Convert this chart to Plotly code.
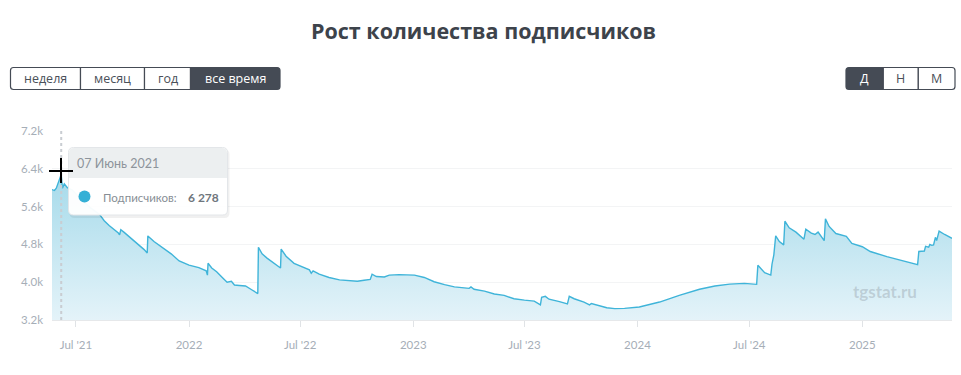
import plotly.graph_objects as go

# ---------------- data ----------------
dates = [
    "2021-05-23", "2021-05-27", "2021-05-30", "2021-06-02", "2021-06-07", "2021-06-09",
    "2021-06-12", "2021-06-17", "2021-06-25", "2021-07-06", "2021-07-22", "2021-08-08",
    "2021-08-16", "2021-08-24", "2021-09-01", "2021-09-08", "2021-09-10", "2021-09-12",
    "2021-09-17", "2021-10-04", "2021-10-20", "2021-10-25", "2021-10-26", "2021-11-05",
    "2021-11-21", "2021-12-03", "2021-12-16", "2022-01-01", "2022-01-17", "2022-01-26",
    "2022-01-29", "2022-01-31", "2022-02-01", "2022-02-07", "2022-02-15", "2022-02-25",
    "2022-03-04", "2022-03-11", "2022-03-16", "2022-03-24", "2022-04-03", "2022-04-13",
    "2022-04-23", "2022-04-24", "2022-04-30", "2022-05-08", "2022-05-20", "2022-05-30",
    "2022-05-31", "2022-06-08", "2022-06-21", "2022-07-04", "2022-07-16", "2022-07-19",
    "2022-07-22", "2022-08-01", "2022-08-17", "2022-09-03", "2022-09-19", "2022-10-02",
    "2022-10-13", "2022-10-23", "2022-10-26", "2022-11-02", "2022-11-15", "2022-11-23",
    "2022-12-09", "2022-12-26", "2023-01-03", "2023-01-19", "2023-02-04", "2023-02-21",
    "2023-03-09", "2023-03-25", "2023-04-02", "2023-04-05", "2023-04-10", "2023-04-27",
    "2023-05-13", "2023-05-29", "2023-06-14", "2023-07-01", "2023-07-17", "2023-07-27",
    "2023-07-29", "2023-08-04", "2023-08-10", "2023-08-27", "2023-09-09", "2023-09-12",
    "2023-09-20", "2023-10-06", "2023-10-15", "2023-10-18", "2023-10-31", "2023-11-12",
    "2023-11-25", "2023-12-11", "2024-01-04", "2024-02-06", "2024-03-09", "2024-04-11",
    "2024-05-06", "2024-05-30", "2024-06-23", "2024-07-13", "2024-07-15", "2024-07-26",
    "2024-08-05", "2024-08-07", "2024-08-10", "2024-08-13", "2024-08-19", "2024-08-26",
    "2024-08-28", "2024-09-04", "2024-09-15", "2024-09-28", "2024-10-01", "2024-10-10",
    "2024-10-16", "2024-10-21", "2024-10-31", "2024-11-02", "2024-11-08", "2024-11-19",
    "2024-12-06", "2024-12-15", "2025-01-01", "2025-01-14", "2025-02-10", "2025-03-08",
    "2025-04-01", "2025-04-03", "2025-04-12", "2025-04-14", "2025-04-19", "2025-04-21",
    "2025-04-24", "2025-04-27", "2025-04-30", "2025-05-02", "2025-05-06", "2025-05-15",
    "2025-05-27",
]
subscribers = [
    5960, 5940, 5990, 6100, 6278, 5990,
    6080, 6000, 5950, 5800, 5600, 5440,
    5300, 5200, 5120, 5040, 5000, 5110,
    5060, 4880, 4690, 4620, 4980, 4860,
    4710, 4600, 4450, 4360, 4310, 4270,
    4240, 4150, 4400, 4300, 4220, 4090,
    4000, 4020, 3940, 3930, 3920, 3840,
    3760, 4740, 4600, 4510, 4400, 4300,
    4700, 4550, 4400, 4330, 4260, 4190,
    4240, 4170, 4100, 4050, 4040, 4020,
    4040, 4060, 4170, 4120, 4110, 4150,
    4160, 4160, 4150, 4100, 4010, 3950,
    3900, 3880, 3870, 3900, 3850, 3810,
    3750, 3720, 3650, 3620, 3600, 3520,
    3680, 3700, 3640, 3590, 3540, 3700,
    3650, 3580, 3520, 3550, 3510, 3460,
    3440, 3445, 3475, 3580, 3720, 3850,
    3920, 3960, 3975, 3955, 4360, 4200,
    4150, 4380, 4580, 4980, 4860, 4790,
    5290, 5150, 5060, 4910, 5120, 5040,
    5010, 5060, 4880, 5340, 5180, 5030,
    4970, 4820, 4750, 4650, 4540, 4450,
    4370, 4650, 4660, 4760, 4740, 4800,
    4780, 4790, 4950, 4880, 5080, 5010,
    4930,
]
x_range = ["2021-05-23", "2025-05-27"]
y_range = [3200, 7200]
y_ticks = [3200, 4000, 4800, 5600, 6400, 7200]
y_tick_labels = ["3.2k", "4.0k", "4.8k", "5.6k", "6.4k", "7.2k"]
x_ticks = ["2021-07-01", "2022-01-01", "2022-07-01", "2023-01-01",
           "2023-07-01", "2024-01-01", "2024-07-01", "2025-01-01"]
x_tick_labels = ["Jul '21", "2022", "Jul '22", "2023", "Jul '23", "2024", "Jul '24", "2025"]

title_text = "Рост количества подписчиков"
left_buttons = ["неделя", "месяц", "год", "все время"]
right_buttons = ["Д", "Н", "М"]
tooltip_date = "07 Июнь 2021"
tooltip_label = "Подписчиков:"
tooltip_value = "6 278"
hover_date = "2021-06-07"
watermark = "tgstat.ru"

# ---------------- layout geometry (pixels) ----------------
W, H = 961, 375
L, R, T, B = 52, 9, 131, 55
PW, PH = W - L - R, H - T - B
FONT = "Lato"
HFONT = "Open Sans"


def px(x):
    return (x - L) / PW


def py(y):
    return (H - B - y) / PH


def rrect(x0, y0, x1, y1, r, top_only=False):
    rb = 0 if top_only else r
    pts = []
    pts.append(f"M{px(x0 + r)},{py(y0)}")
    pts.append(f"L{px(x1 - r)},{py(y0)}")
    pts.append(f"Q{px(x1)},{py(y0)} {px(x1)},{py(y0 + r)}")
    if rb:
        pts.append(f"L{px(x1)},{py(y1 - rb)}")
        pts.append(f"Q{px(x1)},{py(y1)} {px(x1 - rb)},{py(y1)}")
        pts.append(f"L{px(x0 + rb)},{py(y1)}")
        pts.append(f"Q{px(x0)},{py(y1)} {px(x0)},{py(y1 - rb)}")
    else:
        pts.append(f"L{px(x1)},{py(y1)}")
        pts.append(f"L{px(x0)},{py(y1)}")
    pts.append(f"L{px(x0)},{py(y0 + r)}")
    pts.append(f"Q{px(x0)},{py(y0)} {px(x0 + r)},{py(y0)}")
    pts.append("Z")
    return " ".join(pts)


def rrect_lr(x0, y0, x1, y1, r, round_left, round_right):
    pts = []
    if round_left:
        pts.append(f"M{px(x0 + r)},{py(y0)}")
    else:
        pts.append(f"M{px(x0)},{py(y0)}")
    if round_right:
        pts.append(f"L{px(x1 - r)},{py(y0)}")
        pts.append(f"Q{px(x1)},{py(y0)} {px(x1)},{py(y0 + r)}")
        pts.append(f"L{px(x1)},{py(y1 - r)}")
        pts.append(f"Q{px(x1)},{py(y1)} {px(x1 - r)},{py(y1)}")
    else:
        pts.append(f"L{px(x1)},{py(y0)}")
        pts.append(f"L{px(x1)},{py(y1)}")
    if round_left:
        pts.append(f"L{px(x0 + r)},{py(y1)}")
        pts.append(f"Q{px(x0)},{py(y1)} {px(x0)},{py(y1 - r)}")
        pts.append(f"L{px(x0)},{py(y0 + r)}")
        pts.append(f"Q{px(x0)},{py(y0)} {px(x0 + r)},{py(y0)}")
    else:
        pts.append(f"L{px(x0)},{py(y1)}")
    pts.append("Z")
    return " ".join(pts)


LINE = "#3fb4d9"
fig = go.Figure()
fig.add_trace(go.Scatter(
    x=dates, y=subscribers, mode="lines",
    line=dict(color=LINE, width=1.4),
    fill="tozeroy",
    fillgradient=dict(type="vertical", start=3200, stop=6300,
                      colorscale=[[0, "rgb(228,243,249)"], [1, "rgb(165,218,234)"]]),
    hoverinfo="skip", showlegend=False,
))

shapes = []
annotations = []

# crosshair dotted line
shapes.append(dict(type="line", xref="x", yref="paper", x0=hover_date, x1=hover_date,
                   y0=0, y1=1, line=dict(color="#c9cdd2", width=2, dash="dot"), layer="above"))

# tooltip box
tx0, ty0, tx1, ty1 = 68.5, 147.5, 227.5, 215
shapes.append(dict(type="path", xref="paper", yref="paper",
                   path=rrect(tx0 + 1, ty0 + 2, tx1 + 2, ty1 + 3, 5),
                   fillcolor="rgba(0,0,0,0.06)", line=dict(width=0), layer="above"))
shapes.append(dict(type="path", xref="paper", yref="paper",
                   path=rrect(tx0, ty0, tx1, ty1, 5),
                   fillcolor="rgba(255,255,255,0.96)", line=dict(color="#e3e6e9", width=1), layer="above"))
shapes.append(dict(type="path", xref="paper", yref="paper",
                   path=rrect(tx0 + 0.5, ty0 + 0.5, tx1 - 0.5, 178, 5, top_only=True),
                   fillcolor="#eceff0", line=dict(width=0), layer="above"))
shapes.append(dict(type="circle", xref="paper", yref="paper",
                   x0=px(78.5), x1=px(90.5), y0=py(202.5), y1=py(190.5),
                   fillcolor="#35b0d6", line=dict(width=0), layer="above"))
annotations.append(dict(xref="paper", yref="paper", x=px(75), y=py(163), text=tooltip_date,
                        showarrow=False, xanchor="left", yanchor="middle",
                        font=dict(family=FONT, size=12.5, color="#8d949b")))
annotations.append(dict(xref="paper", yref="paper", x=px(101), y=py(197.5), text=tooltip_label,
                        showarrow=False, xanchor="left", yanchor="middle",
                        font=dict(family=FONT, size=11.5, color="#878e95")))
annotations.append(dict(xref="paper", yref="paper", x=px(186), y=py(197.5), text=f"<b>{tooltip_value}</b>",
                        showarrow=False, xanchor="left", yanchor="middle",
                        font=dict(family=FONT, size=12, color="#6f767d")))

# mouse cursor cross
shapes.append(dict(type="line", xref="paper", yref="paper", x0=px(49), x1=px(73),
                   y0=py(171), y1=py(171), line=dict(color="#000000", width=2), layer="above"))
shapes.append(dict(type="line", xref="paper", yref="paper", x0=px(61), x1=px(61),
                   y0=py(158), y1=py(183), line=dict(color="#000000", width=2), layer="above"))

# buttons
DARK = "#454b55"
BY0, BY1 = 67.5, 89.5
lb_edges = [10.5, 80.5, 144.5, 190.5, 280]
for i, lab in enumerate(left_buttons):
    active = i == len(left_buttons) - 1
    x0, x1 = lb_edges[i], lb_edges[i + 1]
    shapes.append(dict(type="path", xref="paper", yref="paper",
                       path=rrect_lr(x0, BY0, x1, BY1, 3, i == 0, i == len(left_buttons) - 1),
                       fillcolor=DARK if active else "#ffffff",
                       line=dict(color=DARK, width=1.2), layer="above"))
    annotations.append(dict(xref="paper", yref="paper", x=px((x0 + x1) / 2), y=py(78.5), text=lab,
                            showarrow=False, xanchor="center", yanchor="middle",
                            font=dict(family=HFONT, size=12.5, color="#ffffff" if active else "#4a5059")))
rb_edges = [846, 883.3, 918.3, 955]
for i, lab in enumerate(right_buttons):
    active = i == 0
    x0, x1 = rb_edges[i], rb_edges[i + 1]
    shapes.append(dict(type="path", xref="paper", yref="paper",
                       path=rrect_lr(x0, BY0, x1, BY1, 3, i == 0, i == len(right_buttons) - 1),
                       fillcolor=DARK if active else "#ffffff",
                       line=dict(color=DARK, width=1.2), layer="above"))
    annotations.append(dict(xref="paper", yref="paper", x=px((x0 + x1) / 2), y=py(78.5), text=lab,
                            showarrow=False, xanchor="center", yanchor="middle",
                            font=dict(family=HFONT, size=12.5, color="#ffffff" if active else "#4a5059")))

# title
annotations.append(dict(xref="paper", yref="paper", x=px(483.5), y=py(30), text=f"<b>{title_text}</b>",
                        showarrow=False, xanchor="center", yanchor="middle",
                        font=dict(family=HFONT, size=21.5, color="#3d434b")))

# watermark (blurred in the original)
annotations.append(dict(xref="paper", yref="paper", x=px(885), y=py(291), text=f"<b>{watermark}</b>",
                        showarrow=False, xanchor="center", yanchor="middle",
                        font=dict(family=FONT, size=17, color="rgba(135,145,155,0.35)")))

fig.update_layout(
    width=W, height=H,
    margin=dict(l=L, r=R, t=T, b=B, pad=0),
    paper_bgcolor="#ffffff", plot_bgcolor="#ffffff",
    shapes=shapes, annotations=annotations,
    font=dict(family=FONT),
    hovermode=False,
    xaxis=dict(type="date", range=x_range, tickvals=x_ticks, ticktext=x_tick_labels,
               showgrid=False, zeroline=False, showline=True, linecolor="#e6e8ea", linewidth=1,
               ticks="outside", ticklen=6, tickcolor="#e0e3e6",
               tickfont=dict(family=FONT, size=11.5, color="#a6aeb7"), ticklabelstandoff=8,
               fixedrange=True),
    yaxis=dict(range=y_range, tickvals=y_ticks, ticktext=y_tick_labels,
               showgrid=True, gridcolor="#f3f4f5", gridwidth=1, zeroline=False, showline=False,
               ticks="", tickfont=dict(family=FONT, size=11.5, color="#a6aeb7"), ticklabelstandoff=8,
               fixedrange=True),
)

fig.write_html("out.html", config={"displayModeBar": False})
